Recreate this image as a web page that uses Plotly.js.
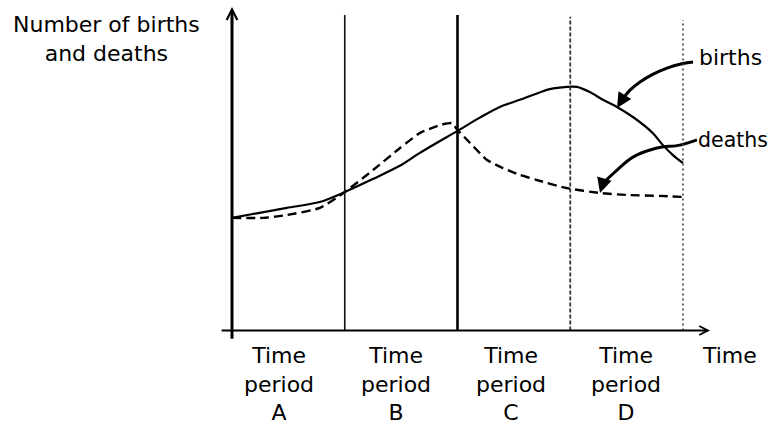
<!DOCTYPE html>
<html>
<head>
<meta charset="utf-8">
<script src="https://cdn.plot.ly/plotly-3.0.1.min.js"></script>
<style>html,body{margin:0;padding:0;background:#fff;}#chart{width:773px;height:427px;}</style>
</head>
<body>
<div id="chart"></div>
<script>
// ---- data (time in periods, value in arbitrary units) ----
const birthsT = [0, 0.184, 0.486, 0.778, 1.0, 1.248, 1.488, 1.666, 2.0, 2.198, 2.375, 2.553, 2.668, 2.819, 2.97, 3.059, 3.174, 3.29, 3.414, 3.556, 3.733, 3.822, 3.911, 4.0];
const birthsV = [34.8, 36.0, 37.9, 39.7, 42.8, 46.8, 50.9, 54.9, 61.7, 65.8, 69.1, 71.3, 72.8, 74.6, 75.3, 75.3, 73.7, 71.3, 69.1, 66.0, 61.0, 57.3, 54.2, 51.7];
const deathsT = [0, 0.275, 0.488, 0.78, 1.0, 1.251, 1.49, 1.668, 1.845, 1.951, 2.0, 2.111, 2.262, 2.404, 2.554, 2.705, 2.971, 3.264, 3.503, 3.796, 4.0];
const deathsV = [34.8, 34.8, 35.7, 37.9, 42.8, 49.6, 56.4, 61.1, 63.5, 64.1, 62.0, 58.0, 52.7, 50.2, 48.1, 46.5, 44.0, 42.5, 41.9, 41.6, 41.3];

const periodBounds = [1, 2, 3, 4];
const boundTops = [97.5, 97.5, 97, 96];
const periodNames = ['A', 'B', 'C', 'D'];
const periodCenters = [0.417, 1.455, 2.474, 3.494];

const birthsArrowT = [4.089, 3.98, 3.858, 3.74, 3.619, 3.53, 3.459, 3.415];
const birthsArrowV = [83.0, 82.4, 81.1, 79.3, 76.8, 74.3, 71.3, 68.8];
const deathsArrowT = [4.124, 3.973, 3.769, 3.556, 3.415, 3.291, 3.264];
const deathsArrowV = [58.9, 57.3, 56.4, 53.6, 49.6, 45.6, 42.5];

// ---- traces ----
const traces = [
  {x: birthsT, y: birthsV, mode: 'lines', line: {color: '#000', width: 2.2, shape: 'spline', smoothing: 0.8}, hoverinfo: 'skip'},
  {x: deathsT, y: deathsV, mode: 'lines', line: {color: '#000', width: 2.4, dash: '9px,5px', shape: 'spline', smoothing: 0.5}, hoverinfo: 'skip'},
  {x: birthsArrowT.slice(0, -1), y: birthsArrowV.slice(0, -1), mode: 'lines', line: {color: '#000', width: 3, shape: 'spline'}, hoverinfo: 'skip'},
  {x: deathsArrowT.slice(0, -1), y: deathsArrowV.slice(0, -1), mode: 'lines', line: {color: '#000', width: 3, shape: 'spline'}, hoverinfo: 'skip'}
];

const boundStyles = [
  {color: '#111', width: 1.6},
  {color: '#000', width: 2.6},
  {color: '#333', width: 1.8, dash: '4px,2px'},
  {color: '#444', width: 1.6, dash: '2px,3px'}
];
const shapes = periodBounds.map((b, i) => ({
  type: 'line', xref: 'x', yref: 'y', x0: b, x1: b, y0: 0, y1: boundTops[i], line: boundStyles[i]
}));

const font = {family: 'DejaVu Sans, Arial, sans-serif', size: 22, color: '#000'};
const annotations = [];
// axes with arrows
annotations.push({x: 4.24, y: 0, ax: -0.106, ay: 0, xref: 'x', yref: 'y', axref: 'x', ayref: 'y', text: '', showarrow: true, arrowhead: 5, arrowsize: 0.8, arrowwidth: 2.2, arrowcolor: '#000'});
annotations.push({x: 0, y: 100, ax: 0, ay: -3, xref: 'x', yref: 'y', axref: 'x', ayref: 'y', text: '', showarrow: true, arrowhead: 5, arrowsize: 0.7, arrowwidth: 3, arrowcolor: '#000'});
// curve arrowheads
function head(ts, vs) {
  const n = ts.length;
  return {x: ts[n - 1], y: vs[n - 1], ax: ts[n - 2], ay: vs[n - 2], xref: 'x', yref: 'y', axref: 'x', ayref: 'y', text: '', showarrow: true, arrowhead: 2, arrowsize: 1, arrowwidth: 3, arrowcolor: '#000'};
}
annotations.push(head(birthsArrowT, birthsArrowV));
annotations.push(head(deathsArrowT, deathsArrowV));
// texts
annotations.push({x: -1.109, y: 90.0, xref: 'x', yref: 'y', text: 'Number of births<br>and deaths', showarrow: false, xanchor: 'center', yanchor: 'middle', align: 'center', font: font});
annotations.push({x: 4.124, y: 84.5, xref: 'x', yref: 'y', text: 'births', showarrow: false, xanchor: 'left', yanchor: 'middle', font: font});
annotations.push({x: 4.115, y: 58.9, xref: 'x', yref: 'y', text: 'deaths', showarrow: false, xanchor: 'left', yanchor: 'middle', font: Object.assign({}, font, {size: 20.5})});
periodNames.forEach((p, i) => {
  annotations.push({x: periodCenters[i], y: -16.5, xref: 'x', yref: 'y', text: 'Time<br>period<br>' + p, showarrow: false, xanchor: 'center', yanchor: 'middle', align: 'center', font: font});
});
annotations.push({x: 4.408, y: -7.8, xref: 'x', yref: 'y', text: 'Time', showarrow: false, xanchor: 'center', yanchor: 'middle', font: font});

const layout = {
  width: 773, height: 427,
  margin: {l: 0, r: 0, t: 0, b: 0},
  paper_bgcolor: '#fff', plot_bgcolor: '#fff',
  showlegend: false,
  xaxis: {range: [-2.0576, 4.7982], visible: false, fixedrange: true},
  yaxis: {range: [-29.83, 102.16], visible: false, fixedrange: true},
  shapes: shapes,
  annotations: annotations
};

Plotly.newPlot('chart', traces, layout, {displayModeBar: false, staticPlot: true});
</script>
</body>
</html>
